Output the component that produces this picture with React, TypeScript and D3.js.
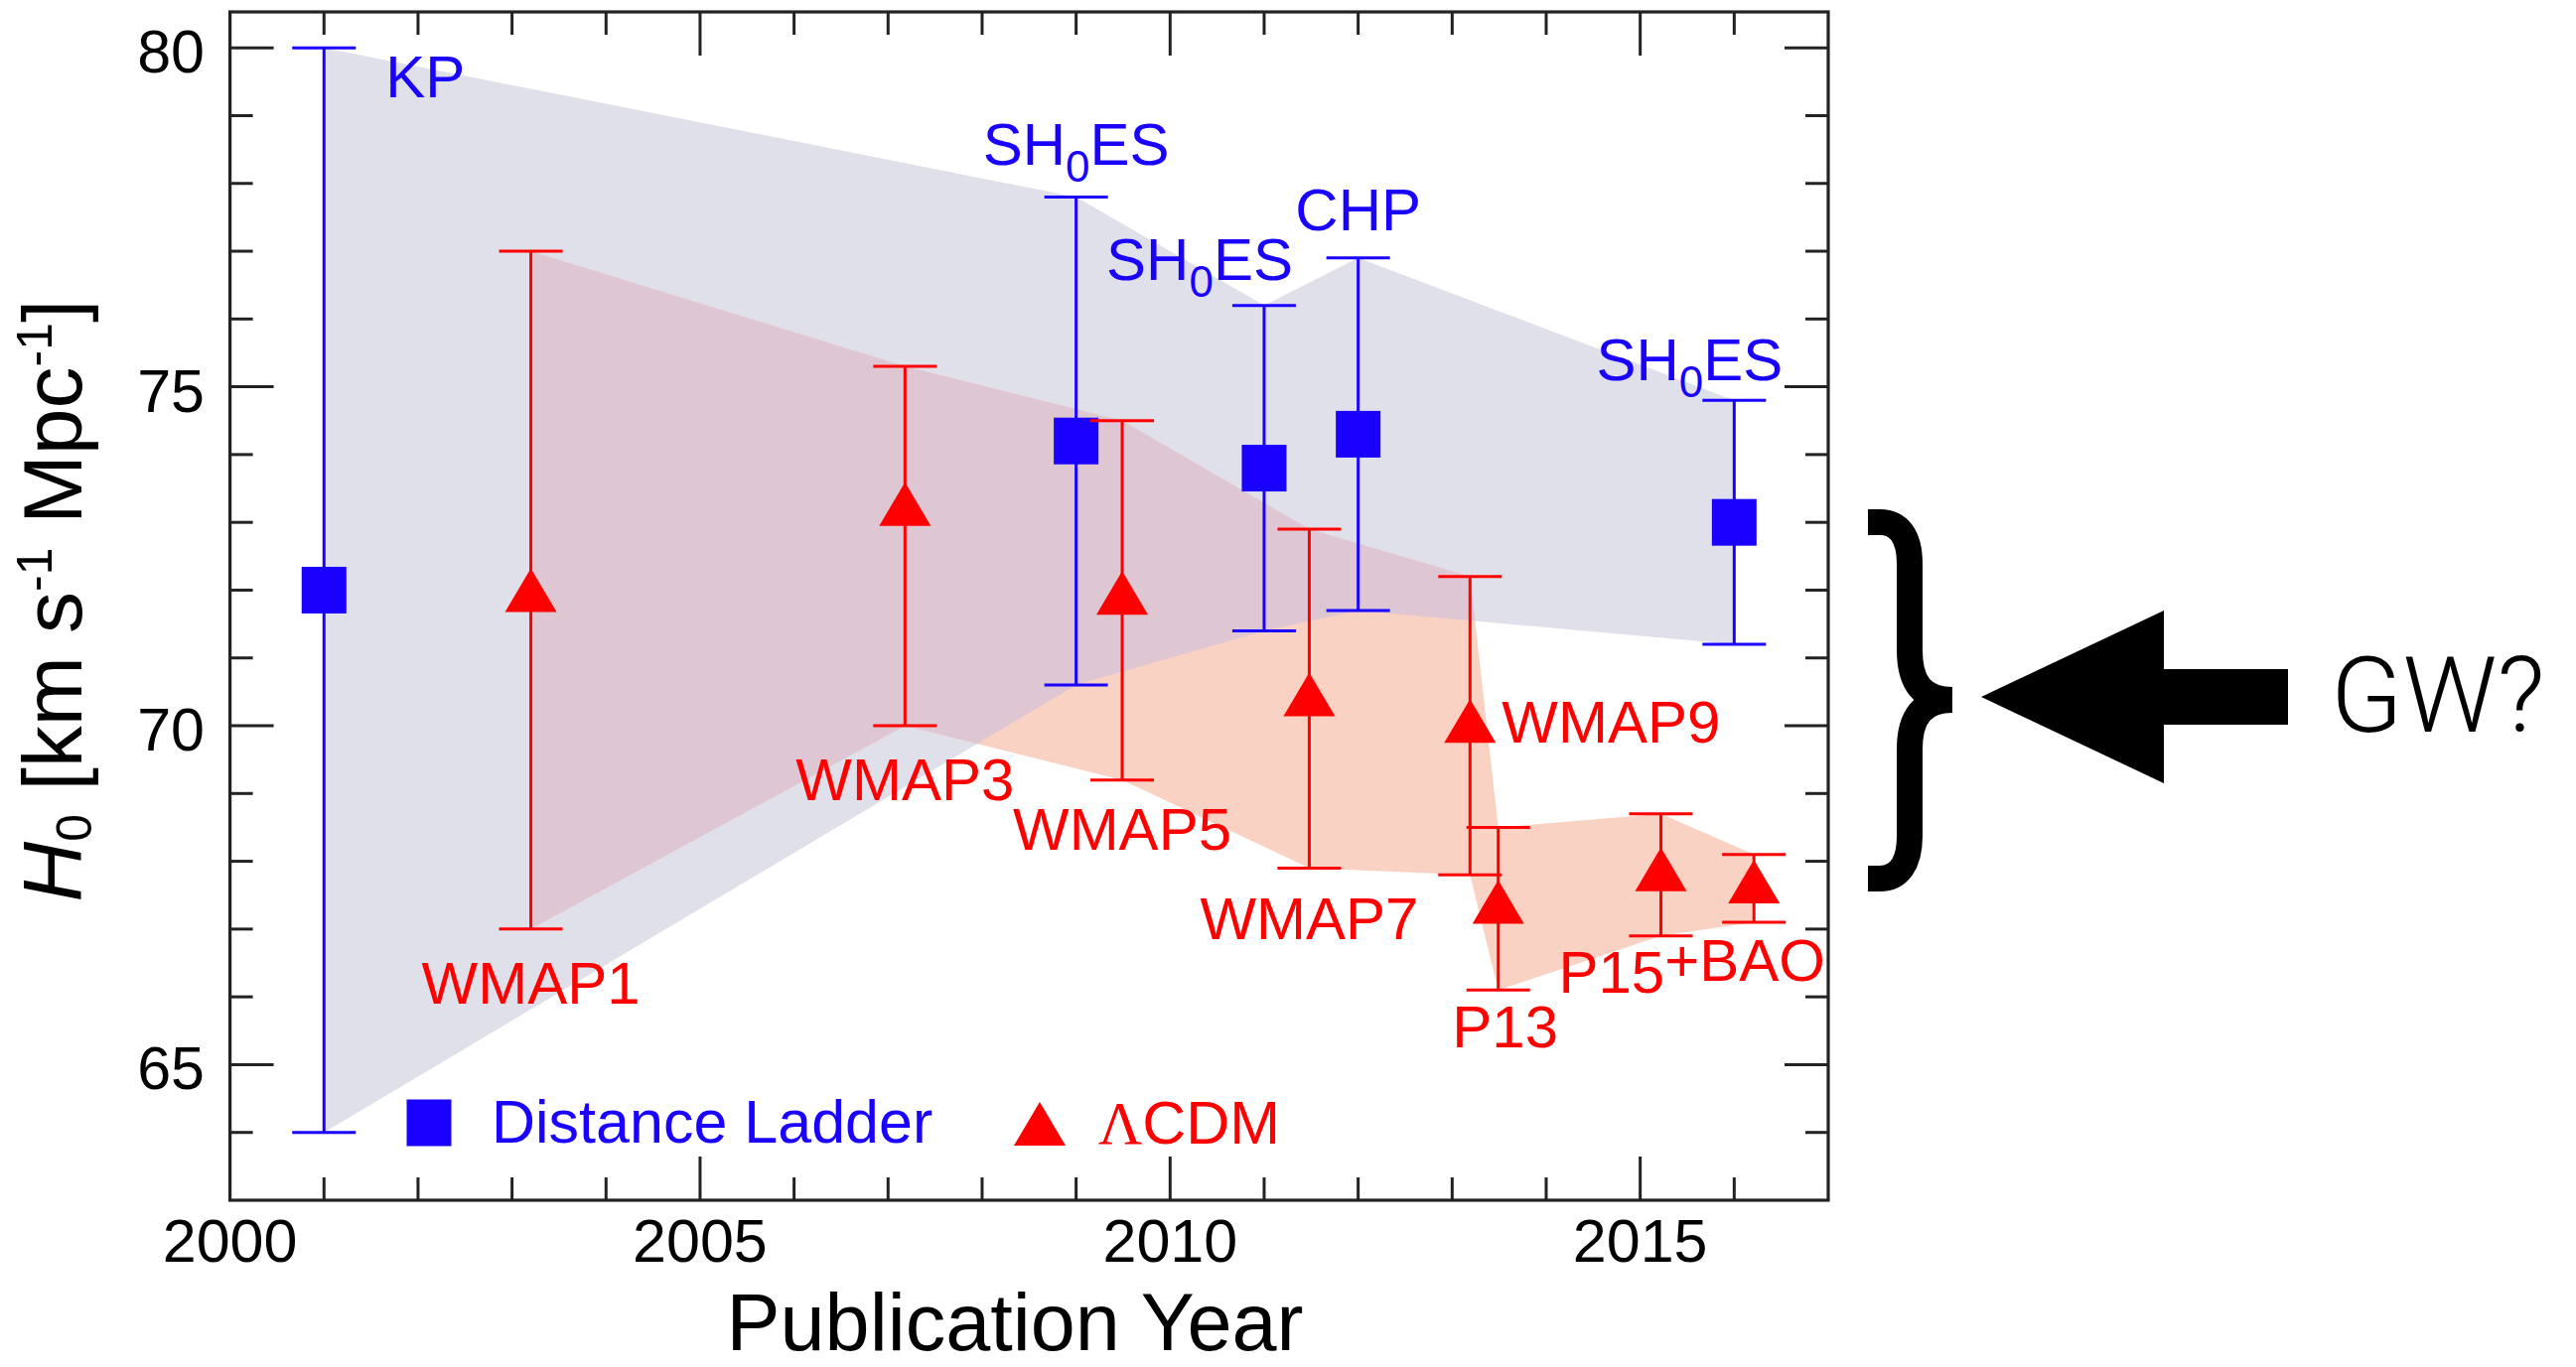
import React from 'react';
import * as d3 from 'd3';

const W = 2594;
const H = 1377;

// Distance-ladder measurements of H0 (value and error-bar ends)
const dlNames = ['KP', 'SH0ES', 'SH0ES', 'CHP', 'SH0ES'];
const dlYear = [2001, 2009, 2011, 2012, 2016];
const dlH0 = [72.0, 74.2, 73.8, 74.3, 73.0];
const dlHigh = [80.0, 77.8, 76.2, 76.9, 74.8];
const dlLow = [64.0, 70.6, 71.4, 71.7, 71.2];

// ΛCDM (CMB) inferences of H0
const cmbNames = ['WMAP1', 'WMAP3', 'WMAP5', 'WMAP7', 'WMAP9', 'P13', 'P15', 'BAO'];
const cmbYear = [2003.2, 2007.18, 2009.49, 2011.48, 2013.19, 2013.49, 2015.22, 2016.21];
const cmbH0 = [72.0, 73.27, 71.96, 70.46, 70.07, 67.4, 67.88, 67.7];
const cmbHigh = [77.0, 75.3, 74.5, 72.9, 72.2, 68.5, 68.7, 68.1];
const cmbLow = [67.0, 70.0, 69.2, 67.9, 67.8, 66.1, 66.9, 67.1];

const xTickLabels = [2000, 2005, 2010, 2015];
const yTickLabels = [65, 70, 75, 80];

// label placement relative to each point (pixels)
const dlLabelLayout = [
  { ref: 'high', dx: 62, dy: 50, anchor: 'start' },
  { ref: 'high', dx: 0, dy: -32, anchor: 'middle' },
  { ref: 'high', dx: 29, dy: -26, anchor: 'end' },
  { ref: 'high', dx: 0, dy: -28, anchor: 'middle' },
  { ref: 'high', dx: 49, dy: -20, anchor: 'end' },
];
const cmbLabelLayout = [
  { ref: 'low', dx: 0, dy: 75, anchor: 'middle' },
  { ref: 'low', dx: 0, dy: 75, anchor: 'middle' },
  { ref: 'low', dx: 0, dy: 70, anchor: 'middle' },
  { ref: 'low', dx: 0, dy: 72, anchor: 'middle' },
  { ref: 'mid', dx: 32, dy: 22, anchor: 'start' },
  { ref: 'low', dx: 7, dy: 58, anchor: 'middle' },
  { ref: 'low', dx: -103, dy: 57, anchor: 'start' },
  null,
];

const BLUE = '#1900ff';
const RED = '#ff0000';
const LAVENDER = '#e0e0eb';
const SALMON = '#fad2c3';
const MAUVE = '#dfc6d3';
const FONT = '"Liberation Sans", Arial, Helvetica, sans-serif';

const left = 231.6;
const right = 1841;
const top = 12;
const bottom = 1209;

export default function App() {
  const x = d3.scaleLinear().domain([2000, 2017]).range([left, right]);
  const y = d3.scaleLinear().domain([63, 80.53]).range([bottom, top]);

  const area = (years: number[], hi: number[], lo: number[]) => {
    const pts: [number, number][] = [];
    years.forEach((yr, i) => pts.push([x(yr), y(hi[i])]));
    for (let i = years.length - 1; i >= 0; i--) pts.push([x(years[i]), y(lo[i])]);
    return d3.line()(pts) + 'Z';
  };
  const dlBand = area(dlYear, dlHigh, dlLow);
  const cmbBand = area(cmbYear, cmbHigh, cmbLow);

  const capHalf = 32;
  const sqW = 45;
  const sqH = 47;
  const triW = 52;
  const triH = 44;
  const tri = (cx: number, cy: number) =>
    `M${cx},${cy - triH / 2}L${cx + triW / 2},${cy + triH / 2}L${cx - triW / 2},${cy + triH / 2}Z`;

  const minorX = d3.range(2001, 2017);
  const majorX = xTickLabels;
  const minorY = d3.range(64, 81);

  const errorBar = (xx: number, hi: number, lo: number, color: string, key: string) => (
    <g key={key} stroke={color} strokeWidth={3} fill="none">
      <line x1={xx} x2={xx} y1={y(hi)} y2={y(lo)} />
      <line x1={xx - capHalf} x2={xx + capHalf} y1={y(hi)} y2={y(hi)} />
      <line x1={xx - capHalf} x2={xx + capHalf} y1={y(lo)} y2={y(lo)} />
    </g>
  );

  const sh0es = (
    <>
      SH
      <tspan fontSize={44} dy={17}>0</tspan>
      <tspan dy={-17}>ES</tspan>
    </>
  );

  const refY = (ref: string, hi: number, lo: number, v: number) =>
    ref === 'high' ? y(hi) : ref === 'low' ? y(lo) : y(v);

  return (
    <svg
      width={W}
      height={H}
      style={{ position: 'absolute', left: 0, top: 0, background: '#fff' }}
      fontFamily={FONT}
    >
      <rect x={0} y={0} width={W} height={H} fill="#fff" />
      <defs>
        <clipPath id="dl-band-clip">
          <path d={dlBand} />
        </clipPath>
      </defs>

      {/* uncertainty bands */}
      <path d={dlBand} fill={LAVENDER} />
      <path d={cmbBand} fill={SALMON} />
      <path d={cmbBand} fill={MAUVE} clipPath="url(#dl-band-clip)" />

      {/* frame and ticks */}
      <g stroke="#222" strokeWidth={3}>
        {minorX.map((v) => {
          const len = majorX.includes(v) ? 44 : 23;
          return (
            <g key={'xt' + v}>
              <line x1={x(v)} x2={x(v)} y1={top} y2={top + len} />
              <line x1={x(v)} x2={x(v)} y1={bottom} y2={bottom - len} />
            </g>
          );
        })}
        {minorY.map((v) => {
          const len = yTickLabels.includes(v) ? 44 : 23;
          return (
            <g key={'yt' + v}>
              <line x1={left} x2={left + len} y1={y(v)} y2={y(v)} />
              <line x1={right} x2={right - len} y1={y(v)} y2={y(v)} />
            </g>
          );
        })}
        <rect x={left} y={top} width={right - left} height={bottom - top} fill="none" strokeWidth={3.2} />
      </g>

      {/* tick labels */}
      <g fontSize={61} fill="#000">
        {xTickLabels.map((v) => (
          <text key={'xl' + v} x={x(v)} y={1271} textAnchor="middle">
            {v}
          </text>
        ))}
        {yTickLabels.map((v) => (
          <text key={'yl' + v} x={206} y={y(v) + 25} textAnchor="end">
            {v}
          </text>
        ))}
      </g>

      {/* axis titles */}
      <text x={1022} y={1360} fontSize={81} textAnchor="middle" fill="#000">
        Publication Year
      </text>
      <text transform="translate(82,605) rotate(-90)" fontSize={84} textAnchor="middle" fill="#000">
        <tspan fontStyle="italic">H</tspan>
        <tspan fontSize={50} dy={10}>0</tspan>
        <tspan dy={-10}> [km s</tspan>
        <tspan fontSize={50} dy={-30}>-1</tspan>
        <tspan dy={30}> Mpc</tspan>
        <tspan fontSize={50} dy={-30}>-1</tspan>
        <tspan dy={30}>]</tspan>
      </text>

      {/* distance ladder points */}
      {dlYear.map((yr, i) => (
        <g key={'dl' + i}>
          {errorBar(x(yr), dlHigh[i], dlLow[i], BLUE, 'dle' + i)}
          <rect x={x(yr) - sqW / 2} y={y(dlH0[i]) - sqH / 2} width={sqW} height={sqH} fill={BLUE} />
        </g>
      ))}

      {/* ΛCDM points */}
      {cmbYear.map((yr, i) => (
        <g key={'cmb' + i}>
          {errorBar(x(yr), cmbHigh[i], cmbLow[i], RED, 'cme' + i)}
          <path d={tri(x(yr), y(cmbH0[i]))} fill={RED} />
        </g>
      ))}

      {/* point labels */}
      <g fontSize={60} fill={BLUE}>
        {dlYear.map((yr, i) => {
          const L = dlLabelLayout[i];
          const name = dlNames[i];
          return (
            <text
              key={'dln' + i}
              x={x(yr) + L.dx}
              y={refY(L.ref, dlHigh[i], dlLow[i], dlH0[i]) + L.dy}
              textAnchor={L.anchor}
            >
              {name === 'SH0ES' ? sh0es : name}
            </text>
          );
        })}
      </g>
      <g fontSize={60} fill={RED}>
        {cmbYear.map((yr, i) => {
          const L = cmbLabelLayout[i];
          if (!L) return null;
          const name = cmbNames[i];
          return (
            <text
              key={'cmbn' + i}
              x={x(yr) + L.dx}
              y={refY(L.ref, cmbHigh[i], cmbLow[i], cmbH0[i]) + L.dy}
              textAnchor={L.anchor}
            >
              {name === 'P15' ? (
                <>
                  P15
                  <tspan dy={-12}>+{cmbNames[7]}</tspan>
                </>
              ) : (
                name
              )}
            </text>
          );
        })}
      </g>

      {/* legend */}
      <rect x={432 - sqW / 2} y={1131 - sqH / 2} width={sqW} height={sqH} fill={BLUE} />
      <text x={495} y={1151} fontSize={61} fill={BLUE}>
        Distance Ladder
      </text>
      <path d={tri(1047, 1132)} fill={RED} />
      <text x={1106} y={1152} fontSize={61} fill={RED}>
        <tspan fontFamily='"Liberation Serif", serif'>Λ</tspan>CDM
      </text>

      {/* brace and arrow */}
      <g fill="none" stroke="#000" strokeWidth={26} strokeLinecap="butt">
        <path d="M1881,526 L1893,526 C1912,526 1923,540 1923,568 L1923,655 C1923,688 1936,705 1966,705" />
        <path d="M1966,705 C1936,705 1923,722 1923,755 L1923,842 C1923,870 1912,885 1893,885 L1881,885" />
      </g>
      <path
        d="M1995,702 L2179,615 L2179,674 L2304,674 L2304,730 L2179,730 L2179,789 Z"
        fill="#000"
      />
      <text x={2347} y={737} fontSize={106} fontFamily="Roboto, sans-serif" fontWeight={300} fill="#000">
        GW?
      </text>
    </svg>
  );
}
